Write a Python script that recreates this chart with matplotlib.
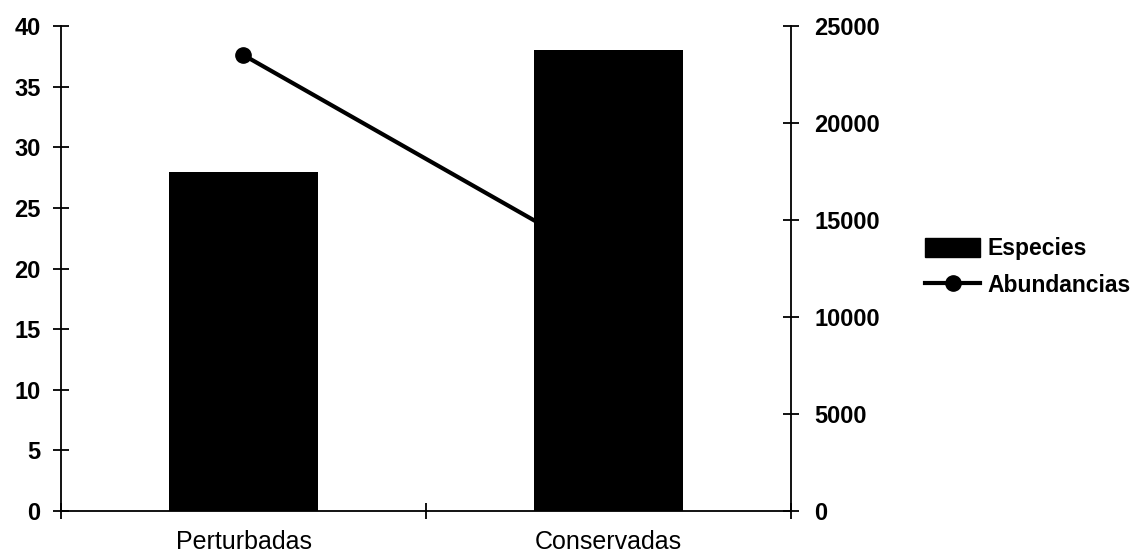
import matplotlib
matplotlib.use("Agg")
import matplotlib.pyplot as plt
from matplotlib.lines import Line2D
from matplotlib.patches import Patch

# Datos
categorias = ["Perturbadas", "Conservadas"]
especies = [28, 38]
abundancias = [23500, 12800]

plt.rcParams['font.family'] = ['Liberation Sans', 'DejaVu Sans']

fig = plt.figure(figsize=(11.34, 5.58), dpi=100)
# ejes: x de 61 a 791 px, y de 26 a 511 px
ax = fig.add_axes([61 / 1134, 47 / 558, 730 / 1134, 485 / 558])
ax2 = ax.twinx()

x = list(range(len(categorias)))

# Barras (especies) en el eje izquierdo
ax.bar(x, especies, width=0.41, color='black', zorder=3)
ax.set_xlim(-0.5, 1.5)
ax.set_ylim(0, 40)
ax.set_yticks(range(0, 41, 5))

# Linea (abundancias) en el eje derecho
ax2.plot(x, abundancias, color='black', linewidth=3, marker='o', markersize=11)
ax2.set_ylim(0, 25000)
ax2.set_yticks(range(0, 25001, 5000))
ax.set_zorder(ax2.get_zorder() + 1)
ax.patch.set_visible(False)

# Ejes y marcas
for a in (ax, ax2):
    a.spines['top'].set_visible(False)
    for s in a.spines.values():
        s.set_linewidth(1.3)
ax.spines['right'].set_visible(False)
ax2.spines['left'].set_visible(False)
ax2.spines['bottom'].set_visible(False)

ax.set_xticks(x)
ax.set_xticklabels(categorias, fontsize=18)
ax.tick_params(axis='x', which='major', length=0, pad=14)
ax.set_xticks([-0.5, 0.5, 1.5], minor=True)
ax.tick_params(axis='x', which='minor', direction='inout', length=12, width=1.3)
ax.tick_params(axis='y', direction='inout', length=11.5, width=1.3, labelsize=17, pad=9)
ax2.tick_params(axis='y', direction='inout', length=11.5, width=1.3, labelsize=17, pad=11)
for lab in ax.get_yticklabels() + ax2.get_yticklabels():
    lab.set_fontweight('bold')

# Leyenda
handles = [Patch(facecolor='black', edgecolor='black'),
           Line2D([0], [0], color='black', linewidth=3, marker='o', markersize=11)]
fig.legend(handles, ["Especies", "Abundancias"], loc='center left',
           bbox_to_anchor=(914 / 1134, 1 - 267 / 558), frameon=False,
           prop={'size': 16.5, 'weight': 'bold'}, borderpad=0,
           handlelength=2.4, handleheight=0.9, handletextpad=0.3, labelspacing=0.6)

fig.savefig("out.png", dpi=100)
